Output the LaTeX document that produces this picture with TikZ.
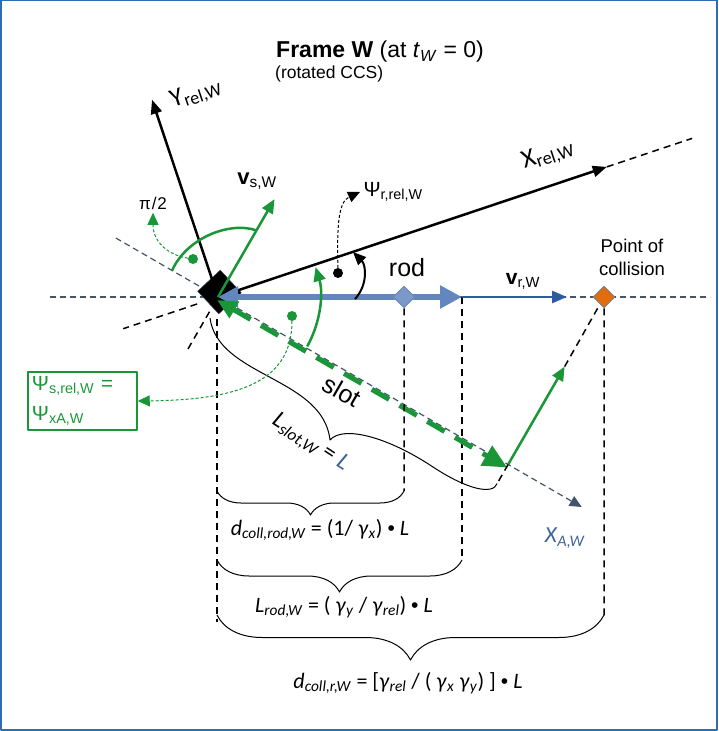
\documentclass[tikz,border=0pt]{standalone}
\usepackage{fontspec}
\setmainfont{Liberation Sans}
\newfontfamily\cali{Carlito}
\usepackage{tikz}
\usetikzlibrary{arrows,arrows.meta,positioning,calc,decorations.pathreplacing}
\definecolor{frameblue}{RGB}{46,109,180}
\definecolor{slate}{RGB}{68,84,106}
\definecolor{rodblue}{RGB}{98,135,190}
\definecolor{vblue}{RGB}{47,90,160}
\definecolor{grn}{RGB}{25,150,55}
\definecolor{orng}{RGB}{228,108,10}
\definecolor{lblblue}{RGB}{60,100,150}
\newcommand\fsz[2]{\fontsize{#1}{#2}\selectfont}
\newcommand\sbs[1]{\textsubscript{#1}}
\newcommand\dotop{{\rmfamily\upshape\fsz{21}{21}•}}

\begin{document}
\begin{tikzpicture}[x=1pt,y=1pt,line join=round,
  axisline/.style={line width=2.5pt,-{Triangle[length=14pt,width=11pt]}},
  guide/.style={slate,line width=1.2pt,dash pattern=on 6pt off 4pt},
  drop/.style={black,line width=1.5pt,dash pattern=on 7pt off 5pt},
  vec/.style={grn,line width=2.5pt,-{Triangle[length=14pt,width=12pt]}},
  thindash/.style={line width=1pt,dash pattern=on 3pt off 2pt,-{Triangle[length=12pt,width=11pt]}},
  curly/.style={decorate,decoration={brace,mirror,amplitude=#1},line width=1pt},
  dotmark/.style={circle,fill=#1,inner sep=0pt,minimum size=10pt},
  diam/.style={rotate=45,minimum size=15pt,inner sep=0pt,line width=1pt}]
\useasboundingbox (-218,-434) rectangle (500,297);
\draw[frameblue,line width=2.5pt] (-216.75,-432.75) rectangle (498.75,296.75);

\coordinate (O) at (0,0);
\coordinate (hl) at (-168,0);
\coordinate (hr) at (492,0);
\coordinate (slotA) at (150:118);
\coordinate (slotB) at (-30:420);
\coordinate (S) at (-30:335);
\coordinate (xtip) at (18.5:410);
\coordinate (xend) at (18.5:500);
\coordinate (xb0) at (198.5:22);
\coordinate (xb1) at (198.5:100);
\coordinate (ytip) at (108.5:208);
\coordinate (vstip) at (60:113);
\coordinate (vb0) at (240:17);
\coordinate (vb1) at (240:60);
\coordinate (vs2) at ($(S)+(60:113)$);
\coordinate (sb) at ($(S)+(240:22)$);
\coordinate (sbs) at (-8,-21);
\coordinate (rodend) at (244,0);
\coordinate (vrend) at (349,0);
\coordinate (b1l) at (-1,-194);
\coordinate (b1r) at (186,-194);
\coordinate (b2l) at (-1,-263);
\coordinate (b2r) at (244,-263);
\coordinate (b3l) at (-1,-318);
\coordinate (b3r) at (386,-318);
\coordinate (l0) at (-1,-22);
\coordinate (l1) at (-1,-325);

\draw[guide] (hl) -- (hr);
\draw[guide,-{Triangle[length=12pt,width=11pt]}] (slotA) -- (slotB);
\draw[drop] (l0) -- (l1);
\draw[drop] (rodend) -- (b2r);
\draw[drop] (xtip) -- (xend);
\draw[drop] (xb0) -- (xb1);
\draw[drop] (vb0) -- (vb1);

\node[draw=slate,fill=black,rotate=43,minimum size=31pt,inner sep=0pt] (blk) at (1.5,5) {};

\draw[axisline] (O) -- (xtip);
\draw[axisline] (O) -- (ytip);
\draw[rodblue,line width=6pt,{Triangle[length=20pt,width=20pt]}-{Triangle[length=22pt,width=22pt]}] (O) -- (rodend);
\draw[vblue,line width=2.5pt,-{Triangle[length=15pt,width=12pt]}] (rodend) -- (vrend);
\draw[grn,line width=5pt,dash pattern=on 20pt off 12pt,{Triangle[length=20pt,width=18pt]}-{Triangle[length=24pt,width=22pt]}] ([shift={(-1,-3)}]O) -- ([shift={(-1,-3)}]S);
\draw[vec] (O) -- (vstip);
\draw[vec] (S) -- (vs2);
\draw[drop] (S) -- (sb);

\node[diam,draw=vblue!70,fill=rodblue!85!white] (rodmk) at (186,0) {};
\node[diam,draw=gray,fill=orng] (coll) at (386,0) {};
\draw[drop] (vs2) -- (coll);
\draw[drop] (rodmk) -- (b1r);
\draw[drop] (coll) -- ([yshift=-5pt]b3r);

\draw[grn,line width=2.5pt] (150:53) .. controls (-32,58) and (10,76) .. (60:77);
\draw[grn,line width=2.5pt,-{Triangle[length=14pt,width=12pt]}] (-29:102) arc[start angle=-29,end angle=17,radius=102];
\draw[line width=2pt,-{Triangle[length=13pt,width=11pt]}] (137,-2) .. controls (150,12) and (148,32) .. (135,45);

\node[dotmark=grn] (dotR) at (-25,38) {};
\node[dotmark=grn] (dotS) at (74,-19) {};
\node[dotmark=black] (dotK) at (120,24) {};

\draw[line width=1pt] (sbs) .. controls (0,-80) and (105,-80) .. (112,-143)
  .. controls (125,-128) and (170,-140) .. (215,-170)
  .. controls (250,-193) and (275,-198) .. (sb);
\draw[curly=24pt] (b1l) -- (b1r);
\draw[curly=32pt] (b2l) -- (b2r);
\draw[curly=45pt] (b3l) -- (b3r);

\node[font=\fsz{23}{27}] (title) at (162,245) {\textbf{Frame W} (at \textit{t}\sbs{\textit{W}} = 0)};
\node[font=\fsz{17.5}{20},anchor=north west] (rccs) at ([xshift=-1pt,yshift=4pt]title.south west) {(rotated CCS)};
\node[font=\cali\fsz{26}{28},rotate=18.5] (ylab) at (-22,203) {Y\sbs{rel,W}};
\node[font=\cali\fsz{26}{28},rotate=18.5] (xlab) at (330,142) {X\sbs{rel,W}};
\node[font=\fsz{22}{24}] (vslab) at (39,116) {\textbf{v}\sbs{s,W}};
\node[font=\fsz{17}{20}] (pilab) at (-65,94) {π\kern1pt/\kern1pt2};
\node[font=\fsz{20.5}{24},anchor=west] (psir) at (142,105) {Ψ\sbs{r,rel,W}};
\node[font=\fsz{25}{28}] (rodlab) at (189,29) {rod};
\node[font=\fsz{21}{24}] (vrlab) at (305,16) {\textbf{v}\sbs{r,W}};
\node[font=\fsz{18.5}{23},align=center] (poclab) at (414,40) {Point of\\collision};
\node[font=\fsz{25}{28},rotate=-30] (slotlab) at (124,-94) {slot};
\node[font=\cali\fsz{24}{26},rotate=-33] (lslot) at (92,-146) {\textit{L}\sbs{\textit{slot,W}} = \textcolor{lblblue}{\textit{L}}};
\node[font=\cali\fsz{23}{26},text=lblblue] (xalab) at (347,-241) {\textit{X}\sbs{\textit{A,W}}};
\node[draw=grn,line width=1.5pt,text=grn,font=\fsz{20.5}{30},align=left,text width=101pt,inner xsep=4pt,minimum height=58pt] (psibox) at (-135.5,-104) {Ψ\sbs{s,rel,W} =\\Ψ\sbs{xA,W}};

\draw[grn,thindash] (dotR) .. controls (-50,42) and (-65,55) .. (pilab.south);
\draw[thindash] (dotK) .. controls (119,70) and (120,95) .. (psir.west);
\draw[grn,thindash] (dotS) .. controls (74,-85) and (20,-103) .. (psibox.east);

\node[font=\cali\fsz{22}{26}] (dcoll) at (102,-233) {\textit{d}\sbs{\textit{coll,rod,W}} = (1/ \textit{γ}\sbs{\textit{x}}) \dotop{} \textit{L}};
\node[font=\cali\fsz{22}{26}] (lrod) at (126,-310) {\textit{L}\sbs{\textit{rod,W}} = ( \textit{γ}\sbs{\textit{y}} / \textit{γ}\sbs{\textit{rel}}) \dotop{} \textit{L}};
\node[font=\cali\fsz{22}{26}] (dcollr) at (190,-386) {\textit{d}\sbs{\textit{coll,r,W}} = [\textit{γ}\sbs{\textit{rel}} / ( \textit{γ}\sbs{\textit{x}} \textit{γ}\sbs{\textit{y}}) ] \dotop{} \textit{L}};
\end{tikzpicture}
\end{document}
